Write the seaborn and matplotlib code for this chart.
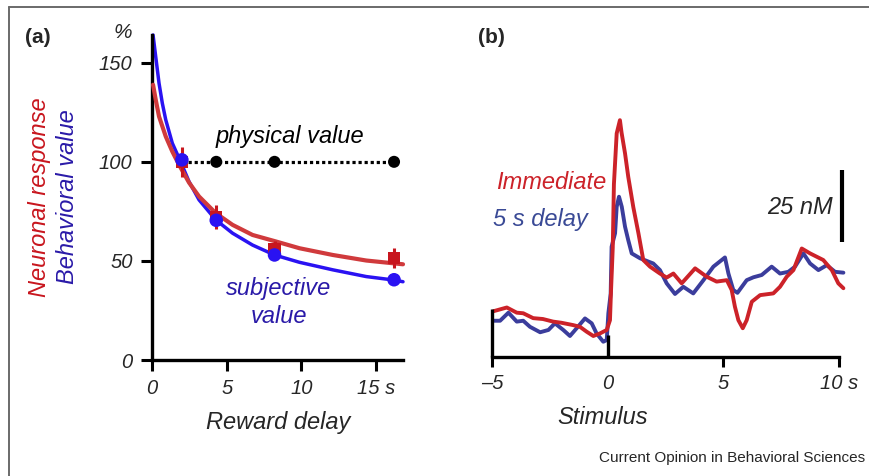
import numpy as np
import pandas as pd
import matplotlib
matplotlib.use("Agg")
import matplotlib.pyplot as plt
from matplotlib.lines import Line2D
import seaborn as sns

# ---------------- data: panel (a) ----------------
delays = [2.0, 4.3, 8.2, 16.2]
physical_value = [100, 100, 100, 100]
subjective_points = [101, 70.5, 53, 40.5]
neuronal_points = [100, 72, 56, 51.5]
neuronal_err = [7.5, 6, 4, 5]

blue_fit_x = [0.07, 0.25, 0.47, 0.69, 0.92, 1.36, 1.86, 2.48, 3.15, 4.27, 5.39, 6.73, 8.2, 9.87, 12.1, 14.34, 16.13, 16.8]
blue_fit_y = [164, 153, 139.7, 129.6, 121.2, 109.4, 101, 90, 80.8, 70.7, 64, 58, 53, 49.3, 45.5, 42.1, 40.4, 39.5]
red_fit_x = [0.07, 0.25, 0.47, 0.92, 1.36, 1.81, 2.48, 3.15, 4.27, 5.39, 6.73, 8.3, 9.87, 12.1, 14.34, 16.8]
red_fit_y = [138.9, 131.3, 122.9, 112.8, 105.2, 98.5, 89.5, 82.5, 74.1, 68.2, 63.1, 59.8, 56.4, 53, 50.2, 48.3]

a_xticks = [0, 5, 10, 15]
a_xticklabels = ["0", "5", "10", "15 s"]
a_yticks = [0, 50, 100, 150]
a_yticklabels = ["0", "50", "100", "150"]

# ---------------- data: panel (b) ----------------
imm_t = [-4.94, -4.36, -3.93, -3.65, -3.22, -2.8, -2.36, -2.0, -1.5, -1.2, -0.91, -0.62, -0.33, -0.04, 0.1, 0.14,
         0.22, 0.27, 0.39, 0.53, 0.6, 0.75, 0.89, 1.11, 1.33, 1.54, 1.83, 2.26, 2.55, 2.84, 3.2, 3.78, 4.28, 4.71,
         5.15, 5.36, 5.5, 5.65, 5.84, 6.01, 6.23, 6.59, 7.16, 7.45, 7.74, 8.03, 8.39, 8.75, 9.32, 9.69, 9.97, 10.19]
imm_v = [15.9, 17.2, 15.4, 15.2, 13.5, 13.2, 12.3, 11.9, 11.1, 10.5, 8.8, 7.3, 8.2, 9.4, 12.8, 22,
         38, 60, 77.7, 82.3, 78, 70.8, 62.6, 52, 43, 33.7, 31.4, 29, 27.6, 29, 25.6, 30.8, 27.9, 26.2,
         26.7, 23.3, 17.5, 12.8, 10, 12.8, 19.2, 21.5, 22.1, 24.4, 27.9, 30.2, 37.7, 36, 33.7, 30.2, 25.6, 23.9]
del_t = [-4.94, -4.65, -4.29, -3.93, -3.65, -3.36, -2.92, -2.56, -2.28, -1.92, -1.63, -1.34, -0.98, -0.69, -0.48,
         -0.19, -0.04, 0.03, 0.13, 0.17, 0.32, 0.39, 0.49, 0.61, 0.75, 0.89, 1.04, 1.4, 1.97, 2.26, 2.55, 2.91,
         3.27, 3.7, 4.14, 4.57, 5.07, 5.22, 5.43, 5.61, 6.01, 6.3, 6.66, 7.09, 7.45, 7.81, 8.1, 8.46, 8.75, 9.11,
         9.47, 9.83, 10.19]
del_v = [12.6, 12.6, 15.4, 12.3, 12.6, 10.5, 8.6, 9.4, 11.7, 9.4, 7.3, 10, 13.4, 11.7, 8.2,
         5.3, 5.9, 15.2, 22, 38.3, 43, 52.2, 55.7, 52.2, 45.3, 40.6, 36, 34.3, 32.5, 30.2, 25.6, 21.9,
         24.4, 22.1, 26.7, 31.4, 34.6, 29, 23.3, 22.3, 26.7, 27.7, 28.5, 31.4, 29, 29.6, 31.4, 36, 32.5, 30.2,
         31.9, 29.6, 29.3]
b_xticks = [-5, 0, 5, 10]
b_xticklabels = ["\u20135", "0", "5", "10 s"]

# ---------------- styling ----------------
sns.set_style("white")
plt.rcParams["font.family"] = ["Liberation Sans", "DejaVu Sans"]

RED_A = "#d03a3c"
RED_PT = "#c8161e"
BLUE_A = "#2a12f2"
BLUE_TXT = "#2a1aa8"
RED_B = "#cc2229"
BLUE_B = "#3b3d9c"
BLUE_B_TXT = "#3a4a96"

W, H = 870, 476
fig = plt.figure(figsize=(W / 100, H / 100), dpi=100)


def fx(px):
    return px / W


def fy(py):
    return 1 - py / H


# frame lines (left and top)
fig.add_artist(Line2D([fx(9), fx(9)], [0, fy(6.5)], color="#6a6a6a", lw=1.4))
fig.add_artist(Line2D([fx(9), 1], [fy(6.5), fy(6.5)], color="#6a6a6a", lw=1.4))

# ---------------- panel (a) ----------------
axA = fig.add_axes([fx(152), fy(360), (403 - 152) / W, (360 - 35) / H])
axA.set_xlim(0, 16.8)
axA.set_ylim(0, 164)

df_blue = pd.DataFrame({"x": blue_fit_x, "y": blue_fit_y})
df_red = pd.DataFrame({"x": red_fit_x, "y": red_fit_y})
sns.lineplot(data=df_blue, x="x", y="y", ax=axA, color=BLUE_A, lw=2.5, sort=False, estimator=None, zorder=2, clip_on=False)
sns.lineplot(data=df_red, x="x", y="y", ax=axA, color=RED_A, lw=3.0, sort=False, estimator=None, zorder=3, clip_on=False)

# physical value dotted line
df_phys = pd.DataFrame({"x": delays, "y": physical_value})
sns.lineplot(data=df_phys, x="x", y="y", ax=axA, color="black", lw=2.3, sort=False, estimator=None,
             dashes=False, zorder=4)
axA.lines[-1].set_dashes((1.0, 0.9))
axA.lines[-1].set_dash_capstyle("butt")
sns.scatterplot(x=delays[1:], y=physical_value[1:], ax=axA, color="black", s=75, edgecolor="none", zorder=6)

# neuronal points with error bars
axA.errorbar(delays, neuronal_points, yerr=neuronal_err, fmt="none", ecolor=RED_PT, elinewidth=2.2,
             capsize=0, zorder=4)
sns.scatterplot(x=delays, y=neuronal_points, ax=axA, marker="s", color=RED_PT, s=75, edgecolor="none", zorder=5)
# subjective points
sns.scatterplot(x=delays, y=subjective_points, ax=axA, color=BLUE_A, s=95, edgecolor="none", zorder=7)

for s in ["top", "right"]:
    axA.spines[s].set_visible(False)
for s in ["left", "bottom"]:
    axA.spines[s].set_linewidth(2.4)
    axA.spines[s].set_color("black")
axA.set_xticks(a_xticks)
axA.set_xticklabels(a_xticklabels, fontsize=14.5, style="italic")
axA.set_yticks(a_yticks)
axA.set_yticklabels(a_yticklabels, fontsize=14.5, style="italic")
axA.tick_params(axis="both", direction="out", length=8, width=2.2, color="black", pad=6, bottom=True, left=True)
axA.set_xlabel("")
axA.set_ylabel("")

axA.text(9.2, 112.6, "physical value", fontsize=17, style="italic", ha="center", va="center", color="black")
axA.text(8.5, 29.0, "subjective\nvalue", fontsize=17, style="italic", ha="center", va="center",
         color=BLUE_TXT, linespacing=1.25)

fig.text(fx(278), fy(422), "Reward delay", fontsize=17, style="italic", ha="center", va="center")
fig.text(fx(123), fy(33), "%", fontsize=15, style="italic", ha="center", va="center")
fig.text(fx(40), fy(197), "Neuronal response", fontsize=17, style="italic", rotation=90,
         ha="center", va="center", color=RED_PT)
fig.text(fx(67), fy(197), "Behavioral value", fontsize=17, style="italic", rotation=90,
         ha="center", va="center", color=BLUE_TXT)
fig.text(fx(25), fy(38), "(a)", fontsize=15, weight="bold", ha="left", va="center")

# ---------------- panel (b) ----------------
axB = fig.add_axes([fx(492), fy(357), (839 - 492) / W, (357 - 98) / H])
axB.set_xlim(-5, 10)
axB.set_ylim(0, 90)

df_del = pd.DataFrame({"t": del_t, "v": del_v})
df_imm = pd.DataFrame({"t": imm_t, "v": imm_v})
sns.lineplot(data=df_del, x="t", y="v", ax=axB, color=BLUE_B, lw=2.8, sort=False, estimator=None,
             zorder=2, clip_on=False)
sns.lineplot(data=df_imm, x="t", y="v", ax=axB, color=RED_B, lw=2.8, sort=False, estimator=None,
             zorder=3, clip_on=False)

for s in ["top", "right", "left"]:
    axB.spines[s].set_visible(False)
axB.spines["bottom"].set_linewidth(2.4)
axB.spines["bottom"].set_color("black")
axB.set_yticks([])
axB.set_xticks(b_xticks)
axB.set_xticklabels(b_xticklabels, fontsize=14.5, style="italic")
axB.tick_params(axis="x", direction="out", length=7, width=2.2, color="black", pad=5, bottom=True)
axB.xaxis.get_major_ticks()[1].tick1line.set_visible(False)
axB.set_xlabel("")
axB.set_ylabel("")

# baseline bar at -5 and stimulus marker at 0
axB.plot([-5, -5], [0, 16.6], color="black", lw=2.4, solid_capstyle="butt", clip_on=False, zorder=4)
axB.plot([0, 0], [0, 7.8], color="black", lw=2.4, solid_capstyle="butt", clip_on=False, zorder=4)
# 25 nM scale bar
axB.plot([10.13, 10.13], [39.9, 64.9], color="black", lw=3.0, solid_capstyle="butt", clip_on=False)
axB.text(9.73, 52.1, "25 nM", fontsize=17, style="italic", ha="right", va="center")

axB.text(-4.83, 60.8, "Immediate", fontsize=17, style="italic", ha="left", va="center", color=RED_B)
axB.text(-4.94, 47.9, "5 s delay", fontsize=17, style="italic", ha="left", va="center", color=BLUE_B_TXT)

fig.text(fx(603), fy(417), "Stimulus", fontsize=17, style="italic", ha="center", va="center")
fig.text(fx(478), fy(38), "(b)", fontsize=15, weight="bold", ha="left", va="center")

fig.text(fx(865), fy(458), "Current Opinion in Behavioral Sciences", fontsize=11, ha="right", va="center")

fig.savefig("out.png", dpi=100)
